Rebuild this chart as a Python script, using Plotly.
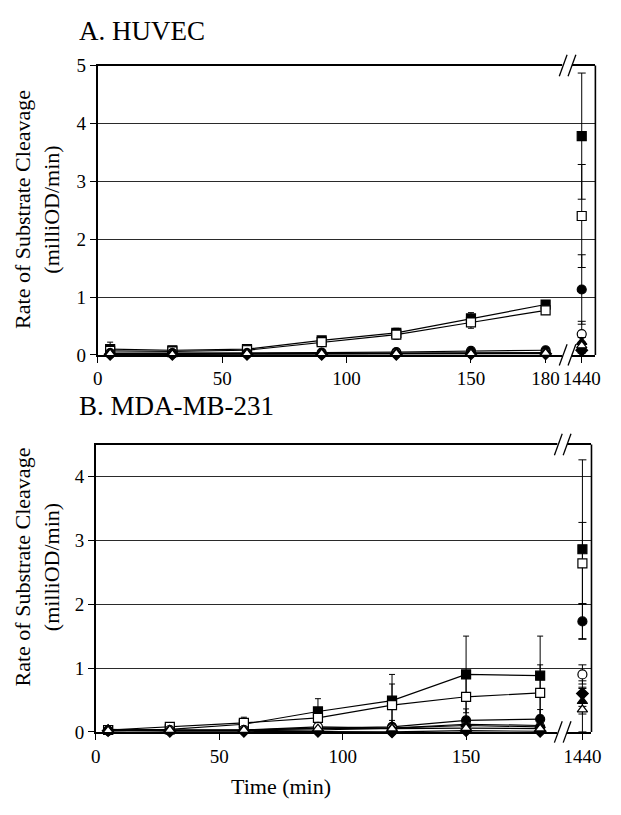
import plotly.graph_objects as go

W, H = 621, 815
FONT = "Liberation Serif"

times = [5, 30, 60, 90, 120, 150, 180]
late_time = [1440]

series_names = ["filled square", "open square", "filled circle", "open circle",
                "filled diamond", "filled triangle", "open triangle"]
symbols = ["square", "square", "circle", "circle", "diamond", "triangle-up", "triangle-up"]
fills = ["black", "white", "black", "white", "black", "black", "white"]

# ---- Panel A: HUVEC (values at 5..180 min, then 1440 min) ----
a_vals = [
    [0.10, 0.08, 0.10, 0.25, 0.38, 0.63, 0.87, 3.78],
    [0.07, 0.06, 0.08, 0.22, 0.35, 0.56, 0.77, 2.40],
    [0.03, 0.03, 0.03, 0.04, 0.05, 0.07, 0.08, 1.13],
    [0.02, 0.02, 0.02, 0.02, 0.03, 0.03, 0.04, 0.36],
    [0.01, 0.01, 0.01, 0.01, 0.01, 0.02, 0.02, 0.08],
    [0.02, 0.02, 0.02, 0.02, 0.02, 0.03, 0.03, 0.22],
    [0.02, 0.01, 0.02, 0.02, 0.02, 0.02, 0.03, 0.16],
]
a_errs = [
    [0.12, 0.05, 0.04, 0.05, 0.08, 0.10, 0.07, 1.09],
    [0.05, 0.04, 0.04, 0.04, 0.08, 0.10, 0.07, 0.89],
    [0.01, 0.01, 0.01, 0.01, 0.02, 0.02, 0.02, 0.60],
    [0.01, 0.01, 0.01, 0.01, 0.01, 0.01, 0.02, 0.22],
    [0.01, 0.01, 0.01, 0.01, 0.01, 0.01, 0.01, 0.05],
    [0.01, 0.01, 0.01, 0.01, 0.01, 0.01, 0.01, 0.08],
    [0.01, 0.01, 0.01, 0.01, 0.01, 0.01, 0.01, 0.06],
]

# ---- Panel B: MDA-MB-231 ----
b_vals = [
    [0.03, 0.04, 0.12, 0.32, 0.49, 0.90, 0.88, 2.86],
    [0.03, 0.08, 0.14, 0.22, 0.42, 0.55, 0.61, 2.64],
    [0.02, 0.02, 0.03, 0.06, 0.08, 0.18, 0.20, 1.73],
    [0.02, 0.03, 0.03, 0.08, 0.06, 0.10, 0.08, 0.90],
    [0.02, 0.01, 0.01, 0.01, 0.00, 0.02, 0.01, 0.60],
    [0.04, 0.02, 0.02, 0.03, 0.06, 0.12, 0.10, 0.48],
    [0.02, 0.03, 0.03, 0.05, 0.05, 0.06, 0.05, 0.35],
]
b_errs = [
    [0.02, 0.02, 0.08, 0.20, 0.41, 0.60, 0.62, 1.40],
    [0.02, 0.02, 0.09, 0.10, 0.33, 0.35, 0.44, 0.64],
    [0.01, 0.01, 0.02, 0.05, 0.10, 0.18, 0.15, 0.28],
    [0.01, 0.01, 0.02, 0.05, 0.05, 0.08, 0.06, 0.15],
    [0.01, 0.01, 0.01, 0.01, 0.02, 0.03, 0.02, 0.20],
    [0.01, 0.01, 0.01, 0.02, 0.03, 0.05, 0.05, 0.20],
    [0.01, 0.01, 0.01, 0.02, 0.03, 0.04, 0.03, 0.35],
]

a_xticks = [0, 50, 100, 150, 180]
b_xticks = [0, 50, 100, 150]
a_yticks = [0, 1, 2, 3, 4, 5]
b_yticks = [0, 1, 2, 3, 4]


def px(x):
    return x / W


def py(y):
    return 1 - y / H


fig = go.Figure()


def add_panel(vals, errs, xm, xl, ya):
    for i in range(len(vals)):
        v, e = vals[i], errs[i]
        mk = dict(symbol=symbols[i], size=9,
                  color=fills[i], line=dict(color="black", width=1.2))
        fig.add_trace(go.Scatter(
            x=times, y=v[:len(times)], mode="lines+markers", xaxis=xm, yaxis=ya,
            line=dict(color="black", width=1.2), marker=mk, cliponaxis=False,
            error_y=dict(type="data", array=e[:len(times)], color="black",
                         thickness=1, width=3),
            name=series_names[i], showlegend=False))
        fig.add_trace(go.Scatter(
            x=late_time, y=v[len(times):], mode="markers", xaxis=xl, yaxis=ya,
            marker=mk, cliponaxis=False,
            error_y=dict(type="data", array=e[len(times):], color="black",
                         thickness=1, width=4),
            name=series_names[i], showlegend=False))


add_panel(a_vals, a_errs, "x", "x2", "y")
add_panel(b_vals, b_errs, "x3", "x4", "y2")

tickfont = dict(family=FONT, size=19, color="black")
axline = dict(showline=True, linecolor="black", linewidth=1.6, ticks="outside",
              ticklen=6, tickcolor="black", tickwidth=1, tickfont=tickfont,
              zeroline=False)

# Panel geometry (pixels)
A_left, A_brk, A_right, A_top, A_bot = 95, 576, 605, 57, 354
B_left, B_brk, B_right, B_top, B_bot = 93, 571, 601, 446, 741
A_k, B_k = 2.55, 2.53

fig.update_layout(
    width=W, height=H, margin=dict(l=0, r=0, t=0, b=0),
    plot_bgcolor="white", paper_bgcolor="white", showlegend=False,
    xaxis=dict(domain=[px(A_left), px(A_brk)], range=[0, (A_brk - A_left) / A_k],
               anchor="y", tickvals=a_xticks, mirror=True, showgrid=False, **axline),
    xaxis2=dict(domain=[px(A_brk), px(A_right)], range=[1440 - 15, 1440 + 14],
                anchor="y", tickvals=[1440], mirror=True, showgrid=False, **axline),
    yaxis=dict(domain=[py(A_bot), py(A_top)], range=[0, 5], anchor="x",
               tickvals=a_yticks, showgrid=True, gridcolor="#2a2a2a", gridwidth=1.4,
               **axline),
    xaxis3=dict(domain=[px(B_left), px(B_brk)], range=[0, (B_brk - B_left) / B_k],
                anchor="y2", tickvals=b_xticks, mirror=True, showgrid=False, **axline),
    xaxis4=dict(domain=[px(B_brk), px(B_right)], range=[1440 - 20.7, 1440 + 9.3],
                anchor="y2", tickvals=[1440], mirror=True, showgrid=False, **axline),
    yaxis2=dict(domain=[py(B_bot), py(B_top)], range=[0, 4.5], anchor="x3",
                tickvals=b_yticks, showgrid=True, gridcolor="#2a2a2a", gridwidth=1.4,
                **axline),
)

shapes = []


def frame_shapes(brk, right, top, bot):
    # right border
    shapes.append(dict(type="line", xref="paper", yref="paper",
                       x0=px(right), x1=px(right), y0=py(bot), y1=py(top),
                       line=dict(color="black", width=1.6)))
    for yy in (top, bot):
        shapes.append(dict(type="rect", xref="paper", yref="paper",
                           x0=px(brk - 5), x1=px(brk + 5), y0=py(yy + 2.5), y1=py(yy - 2.5),
                           fillcolor="white", line=dict(width=0)))
        for dx in (-4, 5):
            shapes.append(dict(type="line", xref="paper", yref="paper",
                               x0=px(brk + dx - 4), y0=py(yy + 11),
                               x1=px(brk + dx + 4), y1=py(yy - 11),
                               line=dict(color="black", width=1.3)))


frame_shapes(A_brk, A_right, A_top, A_bot)
frame_shapes(B_brk, B_right, B_top, B_bot)
fig.update_layout(shapes=shapes)

ytitle = "Rate of Substrate Cleavage<br>(milliOD/min)"
ann = [
    dict(text="A. HUVEC", x=px(74), y=py(22), xanchor="left", yanchor="middle",
         font=dict(family=FONT, size=27, color="black")),
    dict(text="B. MDA-MB-231", x=px(74), y=py(406), xanchor="left", yanchor="middle",
         font=dict(family=FONT, size=27, color="black")),
    dict(text=ytitle, x=px(33), y=py(205), textangle=-90, xanchor="center",
         yanchor="middle", font=dict(family=FONT, size=22, color="black")),
    dict(text=ytitle, x=px(33), y=py(572), textangle=-90, xanchor="center",
         yanchor="middle", font=dict(family=FONT, size=22, color="black")),
    dict(text="Time (min)", x=px(283), y=py(797), xanchor="center", yanchor="middle",
         font=dict(family=FONT, size=22, color="black")),
]
for a in ann:
    a.update(xref="paper", yref="paper", showarrow=False)
fig.update_layout(annotations=ann)

fig.write_html("out.html")
